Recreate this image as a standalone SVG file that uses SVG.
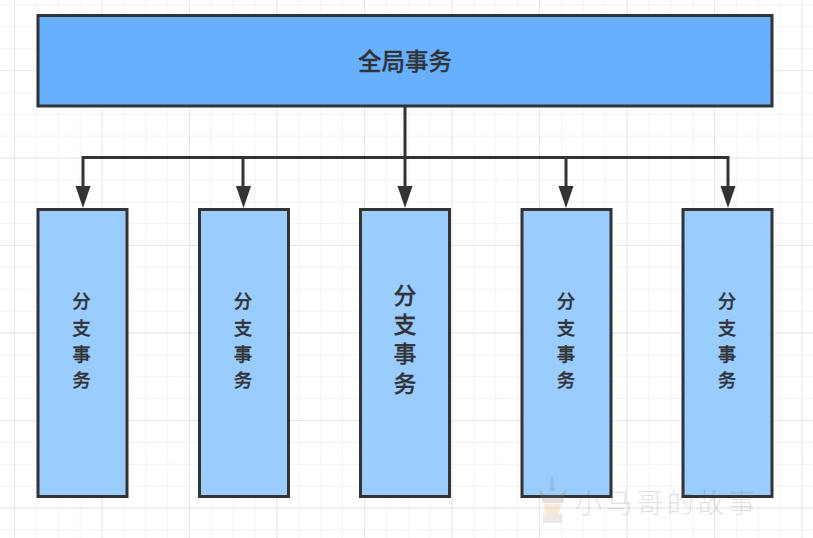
<svg xmlns="http://www.w3.org/2000/svg" width="813" height="538" viewBox="0 0 813 538">
<style>
.box{stroke:#333;stroke-width:3}
.sub{fill:#99ccff}
.top{fill:#66b0ff}
.t{font-family:"Noto Sans CJK SC","Liberation Sans",sans-serif;fill:#333;text-anchor:middle;font-weight:500;stroke:#333;stroke-width:.3}
.c{fill:none;stroke:#333;stroke-width:3}
.wm{font-family:"Noto Sans CJK SC",sans-serif;font-size:27px;fill:#555;opacity:.17;font-weight:300}
</style>
<defs>
<pattern id="minor" x="14" y="4.4" width="21.875" height="21.875" patternUnits="userSpaceOnUse"><path d="M0 0V21.875M0 0H21.875" fill="none" stroke="#eeeeee" stroke-width="1.4"/></pattern>
<pattern id="major" x="14" y="-17.5" width="87.5" height="87.5" patternUnits="userSpaceOnUse"><path d="M0 0V87.5M0 0H87.5" fill="none" stroke="#e4e4e4" stroke-width="1.5"/></pattern>
</defs>
<rect width="813" height="538" fill="#fff"/>
<g id="grid"><rect width="813" height="538" fill="url(#minor)"/><rect width="813" height="538" fill="url(#major)"/></g>
<g id="connectors">
<path class="c" d="M405 106V157.500H83V192" />
<path class="c" d="M405 157.500H243V192" />
<path class="c" d="M405 157.500V192" />
<path class="c" d="M405 157.500H566V192" />
<path class="c" d="M405 157.500H728V192" />
<path d="M75.500 186L83 208L90.500 186Z" fill="#333"/>
<path d="M236 186L243.500 208L251 186Z" fill="#333"/>
<path d="M397.500 186L405 208L412.500 186Z" fill="#333"/>
<path d="M558.500 186L566 208L573.500 186Z" fill="#333"/>
<path d="M720.500 186L728 208L735.500 186Z" fill="#333"/>
</g>
<g id="global"><rect class="box top" x="38" y="15.500" width="734" height="90.500"/><text class="t" x="405" y="69.500" font-size="23.500">全局事务</text></g>
<g id="branch1"><rect class="box sub" x="38" y="209.500" width="89" height="287"/><text class="t" font-size="18.500"><tspan x="81.500" y="308">分</tspan><tspan x="81.500" y="335">支</tspan><tspan x="81.500" y="361">事</tspan><tspan x="81.500" y="387">务</tspan></text></g>
<g id="branch2"><rect class="box sub" x="199.500" width="89" y="209.500" height="287"/><text class="t" font-size="18.500"><tspan x="243" y="308">分</tspan><tspan x="243" y="335">支</tspan><tspan x="243" y="361">事</tspan><tspan x="243" y="387">务</tspan></text></g>
<g id="branch3"><rect class="box sub" x="360.500" width="89" y="209.500" height="287"/><text class="t" font-size="23"><tspan x="405" y="304">分</tspan><tspan x="405" y="333">支</tspan><tspan x="405" y="362">事</tspan><tspan x="405" y="392">务</tspan></text></g>
<g id="branch4"><rect class="box sub" x="522" width="89" y="209.500" height="287"/><text class="t" font-size="18.500"><tspan x="566" y="308">分</tspan><tspan x="566" y="335">支</tspan><tspan x="566" y="361">事</tspan><tspan x="566" y="387">务</tspan></text></g>
<g id="branch5"><rect class="box sub" x="683" width="89" y="209.500" height="287"/><text class="t" font-size="18.500"><tspan x="727" y="308">分</tspan><tspan x="727" y="335">支</tspan><tspan x="727" y="361">事</tspan><tspan x="727" y="387">务</tspan></text></g>
<g id="watermark">
<path d="M552 475L549 491H555Z M538 488L545 495H560L567 488L563 503H543Z" fill="#8a7a60" opacity=".22"/>
<path d="M544 504H561L559 514H546Z" fill="#f0a860" opacity=".25"/>
<path d="M543 514H562V523H543Z" fill="#a09080" opacity=".2"/>
<text class="wm" x="575" y="513" textLength="180">小马哥的故事</text>
</g>
</svg>
